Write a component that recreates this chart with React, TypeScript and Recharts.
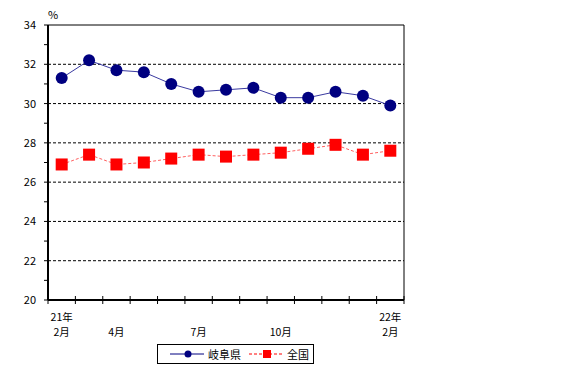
import React from "react";
import { LineChart, Line, XAxis, YAxis, ReferenceLine } from "recharts";

const monthLabels: string[][] = [
  ["21年", "2月"], [], ["4月"], [], [], ["7月"], [], [], ["10月"], [], [], [], ["22年", "2月"],
];
const gifu: number[] = [31.3, 32.2, 31.7, 31.6, 31.0, 30.6, 30.7, 30.8, 30.3, 30.3, 30.6, 30.4, 29.9];
const zenkoku: number[] = [26.9, 27.4, 26.9, 27.0, 27.2, 27.4, 27.3, 27.4, 27.5, 27.7, 27.9, 27.4, 27.6];
const yTicks: number[] = [20, 21, 22, 23, 24, 25, 26, 27, 28, 29, 30, 31, 32, 33, 34];
const gridValues: number[] = [22, 24, 26, 28, 30, 32];
const seriesNames = ["岐阜県", "全国"];

const data = gifu.map((g, i) => ({ x: i + 0.5, gifu: g, zenkoku: zenkoku[i] }));
const xTicks: number[] = [];
for (let i = 0; i <= gifu.length; i++) {
  xTicks.push(i);
  if (i < gifu.length) xTicks.push(i + 0.5);
}

const FONT = "'Noto Sans CJK JP', 'DejaVu Sans', sans-serif";

const XTick = (props: any) => {
  const { x, y, payload } = props;
  const v = payload.value as number;
  if (Number.isInteger(v)) {
    return <line x1={x} x2={x} y1={y - 4} y2={y + 4} stroke="#000" strokeWidth={1} />;
  }
  const lbl = monthLabels[Math.floor(v)] || [];
  const lines = lbl.length === 1 ? ["", lbl[0]] : lbl;
  return (
    <g>
      {lines.map((t, k) =>
        t ? (
          <text key={k} x={x} y={y + 21 + k * 15} textAnchor="middle" fontSize={10.5} fontFamily={FONT} fill="#000">
            {t}
          </text>
        ) : null
      )}
    </g>
  );
};

const YTick = (props: any) => {
  const { x, y, payload } = props;
  const v = payload.value as number;
  return (
    <g>
      <line x1={x + 7} x2={x + 11} y1={y} y2={y} stroke="#000" />
      {v % 2 === 0 ? (
        <text x={x - 1} y={y + 4} textAnchor="end" fontSize={11} fontFamily={FONT} fill="#000">
          {v}
        </text>
      ) : null}
    </g>
  );
};

const Square = (props: any) => {
  const { cx, cy, index } = props;
  return <rect key={`s${index}`} x={cx - 6} y={cy - 6} width={12} height={12} fill="#ff0000" />;
};

const Circle = (props: any) => {
  const { cx, cy, index } = props;
  return <circle key={`c${index}`} cx={cx} cy={cy} r={6} fill="#000080" />;
};

export default function App() {
  return (
    <div style={{ position: "absolute", left: 0, top: 0, width: 563, height: 379, background: "#fff", fontFamily: FONT }}>
      <LineChart width={563} height={379} data={data} margin={{ top: 25, right: 159, left: 0, bottom: 49 }}>
        <XAxis
          dataKey="x"
          type="number"
          domain={[0, 13]}
          ticks={xTicks}
          interval={0}
          tickLine={false}
          tickSize={0}
          tickMargin={0}
          tick={<XTick />}
          axisLine={{ stroke: "#000", strokeWidth: 2 }}
          height={30}
        />
        <YAxis
          type="number"
          domain={[20, 34]}
          ticks={yTicks}
          interval={0}
          width={48}
          tickLine={false}
          tickSize={0}
          tickMargin={11}
          tick={<YTick />}
          axisLine={{ stroke: "#000", strokeWidth: 2 }}
        />
        {gridValues.map((v) => (
          <ReferenceLine key={v} y={v} stroke="#000" strokeDasharray="3 2" strokeWidth={1} />
        ))}
        <ReferenceLine y={34} stroke="#000" strokeWidth={1} />
        <ReferenceLine x={13} stroke="#000" strokeWidth={1} />
        <Line
          dataKey="gifu"
          name={seriesNames[0]}
          stroke="#3a3aa0"
          strokeWidth={1}
          dot={<Circle />}
          isAnimationActive={false}
        />
        <Line
          dataKey="zenkoku"
          name={seriesNames[1]}
          stroke="#ff6060"
          strokeWidth={1}
          strokeDasharray="3 2"
          dot={<Square />}
          isAnimationActive={false}
        />
      </LineChart>
      <div style={{ position: "absolute", left: 48, top: 6, fontSize: 11, color: "#000" }}>%</div>
      <svg style={{ position: "absolute", left: 157, top: 344 }} width={158} height={21}>
        <rect x={0.5} y={0.5} width={156} height={19} fill="#fff" stroke="#000" />
        <line x1={13} x2={47} y1={10} y2={10} stroke="#000080" />
        <circle cx={31} cy={10} r={3.5} fill="#000080" />
        <text x={51} y={14.5} fontSize={11} fontFamily={FONT} fill="#000">{seriesNames[0]}</text>
        <line x1={92} x2={126} y1={10} y2={10} stroke="#ff0000" strokeDasharray="3 2" />
        <rect x={106} y={6} width={8} height={8} fill="#ff0000" />
        <text x={130} y={14.5} fontSize={11} fontFamily={FONT} fill="#000">{seriesNames[1]}</text>
      </svg>
    </div>
  );
}
